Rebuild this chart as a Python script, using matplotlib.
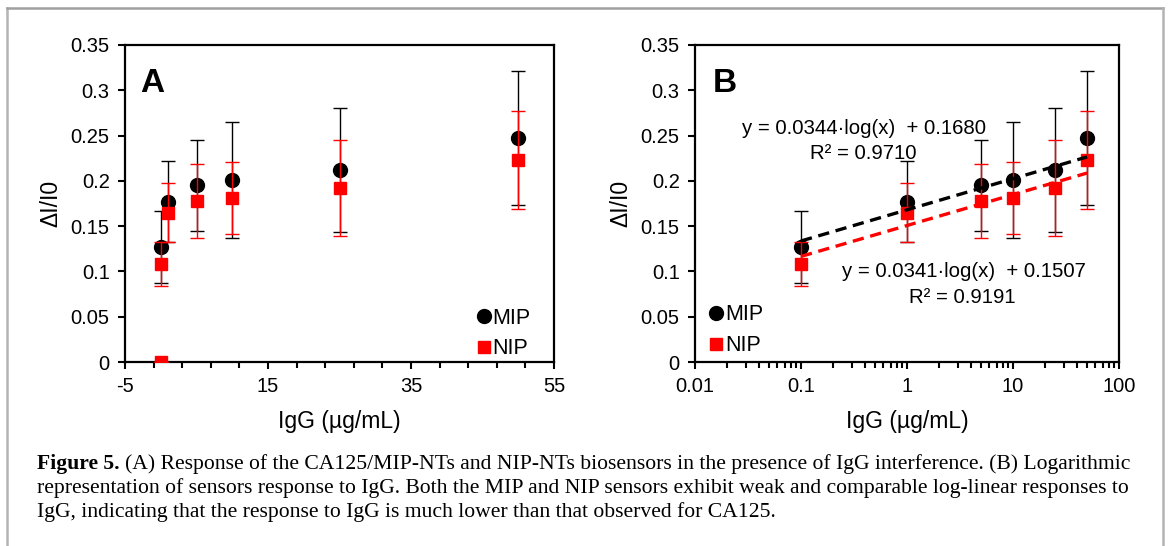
import matplotlib
matplotlib.use('Agg')
import numpy as np
import matplotlib.pyplot as plt
from matplotlib.lines import Line2D
from matplotlib.ticker import MultipleLocator, FixedLocator, FuncFormatter, LogLocator

# data
conc = [0, 0.1, 1, 5, 10, 25, 50]
mip = [0, 0.127, 0.177, 0.195, 0.201, 0.212, 0.247]
mip_err = [0, 0.040, 0.045, 0.050, 0.064, 0.068, 0.074]
nip = [0, 0.108, 0.165, 0.178, 0.181, 0.192, 0.223]
nip_err = [0, 0.024, 0.033, 0.041, 0.040, 0.053, 0.054]

# log fit (panel B), coefficients as printed on the chart
fit_mip = (0.0344, 0.1680, 0.9710)
fit_nip = (0.0341, 0.1507, 0.9191)

W, H = 1170, 546
plt.rcParams['font.family'] = ['Liberation Sans', 'DejaVu Sans']
plt.rcParams['axes.unicode_minus'] = False
fig = plt.figure(figsize=(W / 100, H / 100), dpi=100)

tick_fs = 14.5
lab_fs = 16.5
ms_c, ms_s = 10, 9


def style_axes(ax):
    for s in ax.spines.values():
        s.set_linewidth(1.6)
    ax.tick_params(direction='out', length=5, width=1.5, labelsize=tick_fs, pad=6)
    ax.tick_params(which='minor', direction='out', length=4, width=1.5)
    ax.set_ylim(0, 0.35)
    ax.yaxis.set_major_locator(MultipleLocator(0.05))
    ax.yaxis.set_major_formatter(FuncFormatter(lambda v, p: '%g' % round(v, 3)))
    ax.set_xlabel('IgG (µg/mL)', fontsize=lab_fs, labelpad=10)
    ax.set_ylabel('ΔI/I0', fontsize=lab_fs, labelpad=6)


def draw_points(ax, x, skip_zero_mip=True, skip_zero_nip=False):
    xs = np.array(x)
    m = slice(1, None) if skip_zero_mip else slice(None)
    n = slice(1, None) if skip_zero_nip else slice(None)
    ax.errorbar(xs[m], np.array(mip)[m], yerr=np.array(mip_err)[m], fmt='o', color='black',
                ms=ms_c, elinewidth=1, capsize=5, capthick=1, zorder=3)
    ax.errorbar(xs[n], np.array(nip)[n], yerr=np.array(nip_err)[n], fmt='s', color='red',
                ms=ms_s, elinewidth=1, capsize=5, capthick=1, zorder=4)


def add_legend(ax, anchor):
    handles = [Line2D([], [], marker='o', ls='none', color='black', ms=ms_c),
               Line2D([], [], marker='s', ls='none', color='red', ms=ms_s)]
    ax.legend(handles, ['MIP', 'NIP'], loc='center left', bbox_to_anchor=anchor, frameon=False,
              fontsize=15.5, handlelength=0.6, handletextpad=0.1, labelspacing=0.45, borderpad=0)


# ---- panel A (linear) ----
axA = fig.add_axes([125 / W, (H - 362) / H, 429 / W, 317 / H])
draw_points(axA, conc)
axA.set_xlim(-5, 55)
axA.xaxis.set_major_locator(FixedLocator([-5, 15, 35, 55]))
axA.xaxis.set_minor_locator(MultipleLocator(4, offset=-1))
style_axes(axA)
axA.text(0.063, 0.88, 'A', transform=axA.transAxes, fontsize=24, fontweight='bold', ha='center', va='center')
add_legend(axA, (0.797, 0.09))

# ---- panel B (log x) ----
axB = fig.add_axes([695 / W, (H - 362) / H, 424 / W, 317 / H])
draw_points(axB, conc, skip_zero_nip=True)
axB.set_xscale('log')
axB.set_xlim(0.01, 100)
axB.xaxis.set_major_locator(LogLocator(base=10, numticks=10))
axB.xaxis.set_minor_locator(LogLocator(base=10, subs=np.arange(2, 10), numticks=10))
axB.xaxis.set_minor_formatter(plt.NullFormatter())
axB.xaxis.set_major_formatter(FuncFormatter(lambda v, p: '%g' % v))
style_axes(axB)

xf = np.logspace(np.log10(0.1), np.log10(50), 50)
for (a, b, r2), col in [(fit_mip, 'black'), (fit_nip, 'red')]:
    axB.plot(xf, a * np.log10(xf) + b, ls=(0, (3.4, 2.0)), lw=2.4, color=col, zorder=5)

eq_fs = 14.7
axB.text(0.399, 0.738, 'y = %.4f·log(x)  + %.4f' % fit_mip[:2], transform=axB.transAxes,
         fontsize=eq_fs, ha='center', va='center')
axB.text(0.396, 0.659, 'R² = %.4f' % fit_mip[2], transform=axB.transAxes,
         fontsize=eq_fs, ha='center', va='center')
axB.text(0.634, 0.284, 'y = %.4f·log(x)  + %.4f' % fit_nip[:2], transform=axB.transAxes,
         fontsize=eq_fs, ha='center', va='center')
axB.text(0.630, 0.202, 'R² = %.4f' % fit_nip[2], transform=axB.transAxes,
         fontsize=eq_fs, ha='center', va='center')
axB.text(0.071, 0.88, 'B', transform=axB.transAxes, fontsize=24, fontweight='bold', ha='center', va='center')
add_legend(axB, (0.01, 0.1))

# ---- outer frame ----
fcol = '#b4b4b4'
fig.add_artist(Line2D([7 / W, 7 / W], [0, 1 - 8 / H], color=fcol, lw=1.8))
fig.add_artist(Line2D([7 / W, 1163 / W], [1 - 8 / H, 1 - 8 / H], color='#a0a0a0', lw=1.8))
fig.add_artist(Line2D([1163 / W, 1163 / W], [0, 1 - 8 / H], color=fcol, lw=1.8))

# ---- caption ----
cap_fs = 15.6
serif = ['Liberation Serif', 'DejaVu Serif']
y1, y2, y3 = 1 - 464 / H, 1 - 488 / H, 1 - 512 / H
t1 = fig.text(37 / W, y1, 'Figure 5.', family=serif, fontweight='bold', fontsize=cap_fs, va='center')
fig.canvas.draw()
bb = t1.get_window_extent()
fig.text((bb.x1 + 5) / W, y1, '(A) Response of the CA125/MIP-NTs and NIP-NTs biosensors in the presence '
         'of IgG interference. (B) Logarithmic', family=serif, fontsize=cap_fs, va='center')
fig.text(37 / W, y2, 'representation of sensors response to IgG. Both the MIP and NIP sensors exhibit weak '
         'and comparable log-linear responses to', family=serif, fontsize=cap_fs, va='center')
fig.text(37 / W, y3, 'IgG, indicating that the response to IgG is much lower than that observed for CA125.',
         family=serif, fontsize=cap_fs, va='center')

fig.savefig('out.png', dpi=100)
